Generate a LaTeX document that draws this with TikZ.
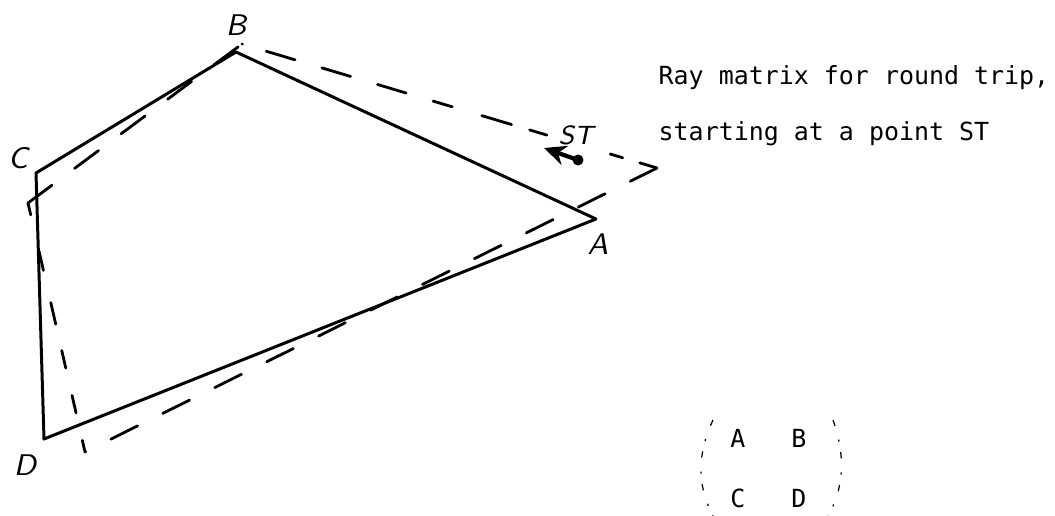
\documentclass[tikz,border=0pt]{standalone}
\usepackage{fontspec}
\usepackage{tikz}
\usetikzlibrary{arrows.meta,positioning}
\newfontfamily\typefont{DejaVu Sans Mono}
\tikzset{
  edgeln/.style={line width=0.85pt, line cap=round, line join=round},
  rayln/.style={line width=0.8pt, dash pattern=on 8.5pt off 8pt, line cap=round},
  stvec/.style={-{Stealth[length=2.2mm,width=2.0mm]}, line width=1.2pt},
  handlbl/.style={inner sep=0pt, font=\fontsize{8.5}{9}\selectfont\sffamily\itshape},
  typetxt/.style={inner sep=0pt, anchor=base west, font=\fontsize{7.1}{8}\selectfont\typefont},
  parenln/.style={line width=0.35pt, dash pattern=on 1.8pt off 4pt on 0.6pt off 3pt},
}
\begin{document}
\begin{tikzpicture}
  \useasboundingbox (0,0) rectangle (10.55,5.16);
  % --- mirror corners ---
  \coordinate (A) at (5.96,2.97);
  \coordinate (B) at (2.36,4.64);
  \coordinate (C) at (0.36,3.43);
  \coordinate (D) at (0.44,0.77);
  \draw[edgeln] (A) -- (B) -- (C) -- (D) -- cycle;
  \node[handlbl] (labA) at (5.98,2.72) {A};
  \node[handlbl] (labB) at (2.36,4.91) {B};
  \node[handlbl] (labC) at (0.18,3.58) {C};
  \node[handlbl] (labD) at (0.25,0.51) {D};
  % --- round trip ray ---
  \coordinate (rayR) at (6.57,3.48);
  \coordinate (rayB) at (2.42,4.72);
  \coordinate (rayC) at (0.28,3.13);
  \coordinate (rayD) at (0.85,0.64);
  \draw[rayln, dash pattern=on 5.1pt off 5.1pt on 3.7pt off 18.8pt on 5.1pt off 5.4pt
    on 8.8pt off 8.8pt on 5.7pt off 8pt on 8.5pt off 8pt on 8.5pt off 8pt on 8.5pt off 7.1pt]
    (rayR) -- (rayB);
  \draw[rayln] (rayR) -- (rayD);
  \draw[rayln, dash pattern=on 3.4pt off 8pt on 5.1pt off 8pt on 5.1pt off 7.7pt
    on 6.3pt off 9.4pt on 5.7pt off 10.5pt on 3.4pt off 2pt]
    (rayD) -- (rayC);
  \draw[rayln] (rayC) -- (rayB);
  % --- start point ---
  \coordinate (STpt) at (5.78,3.56);
  \coordinate (SThd) at (5.44,3.68);
  \fill (STpt) circle (0.055);
  \draw[stvec] (STpt) -- (SThd);
  \node[handlbl, font=\fontsize{7.5}{8}\selectfont\sffamily\itshape] (labST) at (5.76,3.81) {ST};
  % --- caption ---
  \node[typetxt] (cap1) at (6.58,4.32) {Ray matrix for round trip,};
  \node[typetxt] (cap2) at (6.58,3.76) {starting at a point ST};
  % --- matrix ---
  \node[typetxt, anchor=base] (mA) at (7.38,0.69) {A};
  \node[typetxt, anchor=base] (mB) at (7.99,0.69) {B};
  \node[typetxt, anchor=base] (mC) at (7.38,0.08) {C};
  \node[typetxt, anchor=base] (mD) at (7.99,0.08) {D};
  \draw[parenln] (7.13,0.96) .. controls (6.97,0.62) and (6.97,0.30) .. (7.13,0.0);
  \draw[parenln] (8.33,0.96) .. controls (8.45,0.62) and (8.45,0.30) .. (8.28,0.0);
\end{tikzpicture}
\end{document}
